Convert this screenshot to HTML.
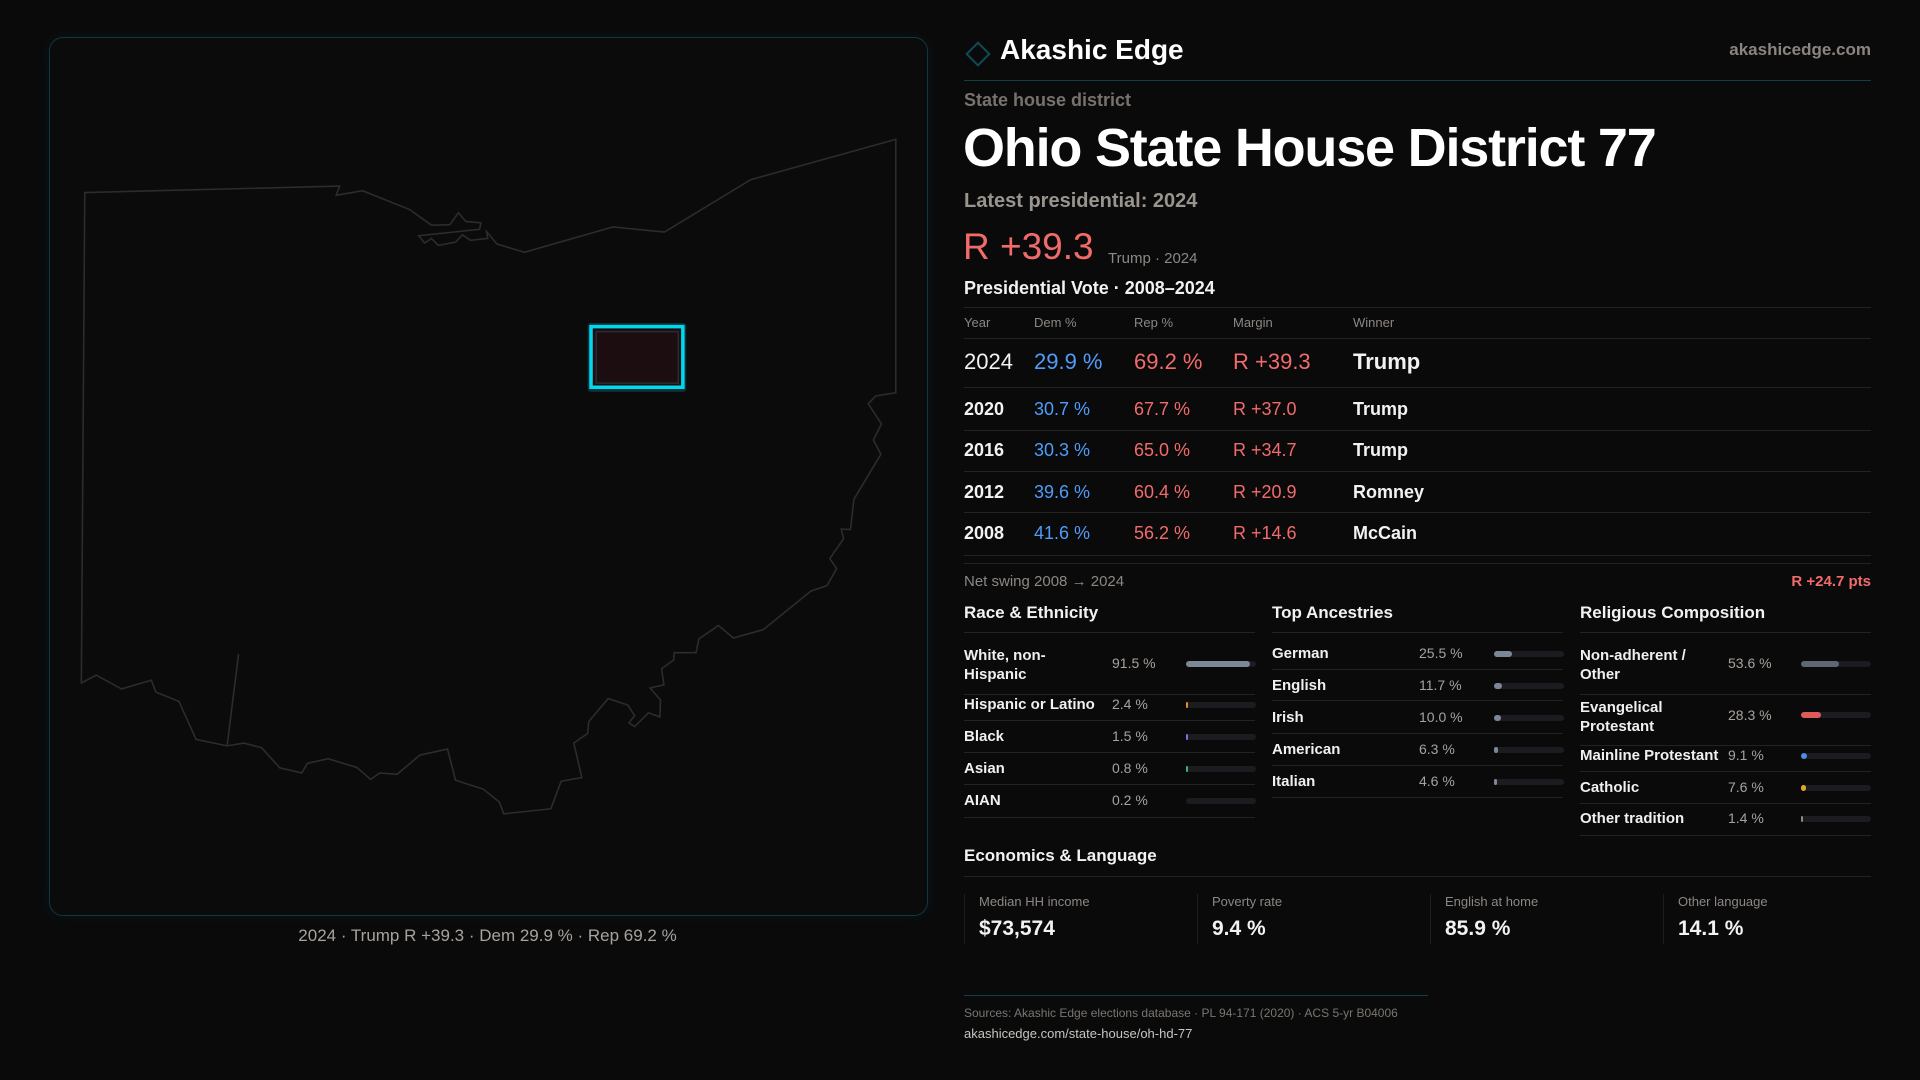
<!DOCTYPE html>
<html><head><meta charset="utf-8"><style>
*{margin:0;padding:0;box-sizing:border-box}
body{width:1920px;height:1080px;background:#0a0a0b;font-family:"Liberation Sans",sans-serif;color:#f2f2f2;position:relative;overflow:hidden}
.a{position:absolute;white-space:nowrap;line-height:1}
.g{color:#8c8782}
.r{color:#f26b6b}
.b{color:#4f9cf9}
.hl{position:absolute;height:1px;background:#222226}
.bar{position:absolute;height:6px;border-radius:3px;background:#1c1c20;width:70px}
.bar i{position:absolute;left:0;top:0;height:6px;border-radius:3px;display:block}
.lab{font-size:15px;font-weight:bold;color:#f0f0f0}
.val{font-size:14px;color:#a8a29c}
</style></head><body>
<div style="position:absolute;left:49px;top:37px;width:879px;height:879px;border:1px solid #10383e;border-radius:14px;background:#0b0b0c;box-shadow:0 0 12px rgba(0,180,200,0.08)"></div>
<svg style="position:absolute;left:40px;top:120px" width="900" height="720" viewBox="0 0 1568 1568" preserveAspectRatio="none">
<path d="M78,158 L522,144 L516,164 L562,154 L644,195 L682,229 L714,228 L729,202 L742,221 L768,224 L766,238 L660,252 L670,268 L682,258 L694,273 L724,266 L736,250 L750,262 L780,258 L778,243 L796,270 L844,288 L998,233 L1088,244 L1238,130 L1491,42 L1491,594 L1456,601 L1443,618 L1466,662 L1452,697 L1465,728 L1418,826 L1412,892 L1396,891 L1400,912 L1376,955 L1388,977 L1371,1014 L1343,1026 L1260,1110 L1208,1128 L1182,1101 L1148,1130 L1143,1160 L1105,1160 L1104,1176 L1083,1195 L1087,1230 L1063,1237 L1081,1263 L1080,1300 L1060,1291 L1036,1321 L1026,1313 L1036,1297 L1024,1274 L990,1260 L956,1310 L954,1336 L930,1357 L944,1432 L908,1440 L890,1500 L808,1511 L800,1485 L772,1457 L724,1438 L710,1370 L662,1383 L622,1425 L592,1422 L576,1436 L552,1410 L502,1391 L466,1401 L456,1422 L418,1411 L386,1367 L355,1357 L326,1363 L272,1349 L242,1266 L202,1246 L194,1220 L142,1239 L98,1209 L72,1226 Z M326,1363 L346,1163" fill="none" stroke="#2c2c2f" stroke-width="1.6" vector-effect="non-scaling-stroke"/>
<rect x="954" y="442" width="172" height="150" rx="6" fill="#0f3a44" opacity="0.8"/>
<rect x="960" y="450" width="160" height="132" fill="#1c0e10" stroke="#00d8ef" stroke-width="3.5" vector-effect="non-scaling-stroke"/>
<rect x="969" y="461" width="143" height="112" fill="none" stroke="#2c2c2f" stroke-width="1.5" vector-effect="non-scaling-stroke"/>
</svg>
<div class="a" style="left:0;width:975px;text-align:center;top:927px;font-size:17px;color:#a8a29c">2024 · Trump R +39.3 · Dem 29.9 % · Rep 69.2 %</div>

<div style="position:absolute;left:969px;top:45px;width:18px;height:18px;border:2px solid #0f4a55;transform:rotate(45deg)"></div>
<div class="a" style="left:1000px;top:36px;font-size:28px;font-weight:bold;color:#fff">Akashic Edge</div>
<div class="a g" style="right:49px;top:41px;font-size:17px;font-weight:bold;color:#8a8580">akashicedge.com</div>
<div class="hl" style="left:964px;width:907px;top:80px;background:#10404a"></div>
<div class="a g" style="left:964px;top:91px;font-size:18px;font-weight:bold;color:#77726d">State house district</div>
<div class="a" style="left:963px;top:121px;font-size:54px;font-weight:bold;color:#fff;letter-spacing:-1.2px">Ohio State House District 77</div>
<div class="a" style="left:964px;top:191px;font-size:20px;font-weight:bold;color:#9a948e">Latest presidential: 2024</div>
<div class="a r" style="left:963px;top:228px;font-size:37px">R +39.3</div>
<div class="a g" style="left:1108px;top:251px;font-size:15px">Trump · 2024</div>
<div class="a" style="left:964px;top:279px;font-size:18px;font-weight:bold">Presidential Vote · 2008–2024</div>
<div class="hl" style="left:964px;width:907px;top:307px"></div>
<div class="a g" style="left:964px;top:316px;font-size:13px">Year</div>
<div class="a g" style="left:1034px;top:316px;font-size:13px">Dem %</div>
<div class="a g" style="left:1134px;top:316px;font-size:13px">Rep %</div>
<div class="a g" style="left:1233px;top:316px;font-size:13px">Margin</div>
<div class="a g" style="left:1353px;top:316px;font-size:13px">Winner</div>
<div class="hl" style="left:964px;width:907px;top:338px"></div>
<div class="a" style="left:964px;top:351px;font-size:22px">2024</div>
<div class="a b" style="left:1034px;top:351px;font-size:22px">29.9 %</div>
<div class="a r" style="left:1134px;top:351px;font-size:22px">69.2 %</div>
<div class="a r" style="left:1233px;top:351px;font-size:22px">R +39.3</div>
<div class="a" style="left:1353px;top:351px;font-size:22px;font-weight:bold">Trump</div>
<div class="hl" style="left:964px;width:907px;top:387px"></div>

<div class="a" style="left:964px;top:400px;font-size:18px;font-weight:bold">2020</div><div class="a b" style="left:1034px;top:400px;font-size:18px">30.7 %</div><div class="a r" style="left:1134px;top:400px;font-size:18px">67.7 %</div><div class="a r" style="left:1233px;top:400px;font-size:18px">R +37.0</div><div class="a" style="left:1353px;top:400px;font-size:18px;font-weight:bold">Trump</div>
<div class="hl" style="left:964px;width:907px;top:430px"></div>
<div class="a" style="left:964px;top:441px;font-size:18px;font-weight:bold">2016</div><div class="a b" style="left:1034px;top:441px;font-size:18px">30.3 %</div><div class="a r" style="left:1134px;top:441px;font-size:18px">65.0 %</div><div class="a r" style="left:1233px;top:441px;font-size:18px">R +34.7</div><div class="a" style="left:1353px;top:441px;font-size:18px;font-weight:bold">Trump</div>
<div class="hl" style="left:964px;width:907px;top:471px"></div>
<div class="a" style="left:964px;top:483px;font-size:18px;font-weight:bold">2012</div><div class="a b" style="left:1034px;top:483px;font-size:18px">39.6 %</div><div class="a r" style="left:1134px;top:483px;font-size:18px">60.4 %</div><div class="a r" style="left:1233px;top:483px;font-size:18px">R +20.9</div><div class="a" style="left:1353px;top:483px;font-size:18px;font-weight:bold">Romney</div>
<div class="hl" style="left:964px;width:907px;top:512px"></div>
<div class="a" style="left:964px;top:524px;font-size:18px;font-weight:bold">2008</div><div class="a b" style="left:1034px;top:524px;font-size:18px">41.6 %</div><div class="a r" style="left:1134px;top:524px;font-size:18px">56.2 %</div><div class="a r" style="left:1233px;top:524px;font-size:18px">R +14.6</div><div class="a" style="left:1353px;top:524px;font-size:18px;font-weight:bold">McCain</div>
<div class="hl" style="left:964px;width:907px;top:555px"></div>
<div class="hl" style="left:964px;width:907px;top:563px"></div>
<div class="a g" style="left:964px;top:574px;font-size:15px">Net swing 2008 → 2024</div>
<div class="a r" style="right:49px;top:574px;font-size:15px;font-weight:bold">R +24.7 pts</div>

<div class="a" style="left:964px;top:604px;font-size:17px;font-weight:bold">Race &amp; Ethnicity</div>
<div class="a" style="left:1272px;top:604px;font-size:17px;font-weight:bold">Top Ancestries</div>
<div class="a" style="left:1580px;top:604px;font-size:17px;font-weight:bold">Religious Composition</div>
<div class="hl" style="left:964px;width:291px;top:632px"></div>
<div class="hl" style="left:1272px;width:291px;top:632px"></div>
<div class="hl" style="left:1580px;width:291px;top:632px"></div>

<div class="a lab" style="left:964px;top:646px;line-height:19px">White, non-<br>Hispanic</div><div class="a val" style="left:1112px;top:656px">91.5 %</div><div class="bar" style="left:1186px;top:661px"><i style="width:64px;background:#7c8898"></i></div>
<div class="hl" style="left:964px;width:291px;top:694px"></div>
<div class="a lab" style="left:964px;top:697px">Hispanic or Latino</div><div class="a val" style="left:1112px;top:697px">2.4 %</div><div class="bar" style="left:1186px;top:702px"><i style="width:2px;background:#e0902a"></i></div>
<div class="hl" style="left:964px;width:291px;top:720px"></div>
<div class="a lab" style="left:964px;top:729px">Black</div><div class="a val" style="left:1112px;top:729px">1.5 %</div><div class="bar" style="left:1186px;top:734px"><i style="width:2px;background:#8a6ae8"></i></div>
<div class="hl" style="left:964px;width:291px;top:752px"></div>
<div class="a lab" style="left:964px;top:761px">Asian</div><div class="a val" style="left:1112px;top:761px">0.8 %</div><div class="bar" style="left:1186px;top:766px"><i style="width:2px;background:#3ab07a"></i></div>
<div class="hl" style="left:964px;width:291px;top:784px"></div>
<div class="a lab" style="left:964px;top:793px">AIAN</div><div class="a val" style="left:1112px;top:793px">0.2 %</div><div class="bar" style="left:1186px;top:798px"></div>
<div class="hl" style="left:964px;width:291px;top:817px"></div>

<div class="a lab" style="left:1272px;top:646px">German</div><div class="a val" style="left:1419px;top:646px">25.5 %</div><div class="bar" style="left:1494px;top:651px"><i style="width:18px;background:#7c8898"></i></div>
<div class="hl" style="left:1272px;width:291px;top:669px"></div>
<div class="a lab" style="left:1272px;top:678px">English</div><div class="a val" style="left:1419px;top:678px">11.7 %</div><div class="bar" style="left:1494px;top:683px"><i style="width:8px;background:#7c8898"></i></div>
<div class="hl" style="left:1272px;width:291px;top:700px"></div>
<div class="a lab" style="left:1272px;top:710px">Irish</div><div class="a val" style="left:1419px;top:710px">10.0 %</div><div class="bar" style="left:1494px;top:715px"><i style="width:7px;background:#7c8898"></i></div>
<div class="hl" style="left:1272px;width:291px;top:733px"></div>
<div class="a lab" style="left:1272px;top:742px">American</div><div class="a val" style="left:1419px;top:742px">6.3 %</div><div class="bar" style="left:1494px;top:747px"><i style="width:4px;background:#7c8898"></i></div>
<div class="hl" style="left:1272px;width:291px;top:765px"></div>
<div class="a lab" style="left:1272px;top:774px">Italian</div><div class="a val" style="left:1419px;top:774px">4.6 %</div><div class="bar" style="left:1494px;top:779px"><i style="width:3px;background:#7c8898"></i></div>
<div class="hl" style="left:1272px;width:291px;top:797px"></div>

<div class="a lab" style="left:1580px;top:646px;line-height:19px">Non-adherent /<br>Other</div><div class="a val" style="left:1728px;top:656px">53.6 %</div><div class="bar" style="left:1801px;top:661px"><i style="width:38px;background:#5f6674"></i></div>
<div class="hl" style="left:1580px;width:291px;top:694px"></div>
<div class="a lab" style="left:1580px;top:698px;line-height:19px">Evangelical<br>Protestant</div><div class="a val" style="left:1728px;top:708px">28.3 %</div><div class="bar" style="left:1801px;top:712px"><i style="width:20px;background:#e05a5a"></i></div>
<div class="hl" style="left:1580px;width:291px;top:745px"></div>
<div class="a lab" style="left:1580px;top:748px">Mainline Protestant</div><div class="a val" style="left:1728px;top:748px">9.1 %</div><div class="bar" style="left:1801px;top:753px"><i style="width:6px;background:#4f8ae8"></i></div>
<div class="hl" style="left:1580px;width:291px;top:771px"></div>
<div class="a lab" style="left:1580px;top:780px">Catholic</div><div class="a val" style="left:1728px;top:780px">7.6 %</div><div class="bar" style="left:1801px;top:785px"><i style="width:5px;background:#e0a82a"></i></div>
<div class="hl" style="left:1580px;width:291px;top:803px"></div>
<div class="a lab" style="left:1580px;top:811px">Other tradition</div><div class="a val" style="left:1728px;top:811px">1.4 %</div><div class="bar" style="left:1801px;top:816px"><i style="width:2px;background:#8a8a8a"></i></div>
<div class="hl" style="left:1580px;width:291px;top:835px"></div>

<div class="a" style="left:964px;top:847px;font-size:17px;font-weight:bold">Economics &amp; Language</div>
<div class="hl" style="left:964px;width:907px;top:876px"></div>
<div style="position:absolute;left:964px;top:894px;width:1px;height:50px;background:#1e1e22"></div>
<div style="position:absolute;left:1197px;top:894px;width:1px;height:50px;background:#1e1e22"></div>
<div style="position:absolute;left:1430px;top:894px;width:1px;height:50px;background:#1e1e22"></div>
<div style="position:absolute;left:1663px;top:894px;width:1px;height:50px;background:#1e1e22"></div>
<div class="a g" style="left:979px;top:895px;font-size:13px">Median HH income</div><div class="a" style="left:979px;top:918px;font-size:21px;font-weight:bold">$73,574</div>
<div class="a g" style="left:1212px;top:895px;font-size:13px">Poverty rate</div><div class="a" style="left:1212px;top:918px;font-size:21px;font-weight:bold">9.4 %</div>
<div class="a g" style="left:1445px;top:895px;font-size:13px">English at home</div><div class="a" style="left:1445px;top:918px;font-size:21px;font-weight:bold">85.9 %</div>
<div class="a g" style="left:1678px;top:895px;font-size:13px">Other language</div><div class="a" style="left:1678px;top:918px;font-size:21px;font-weight:bold">14.1 %</div>

<div class="hl" style="left:964px;width:464px;top:995px;background:#10404a"></div>
<div class="a g" style="left:964px;top:1007px;font-size:12px;color:#7a756f">Sources: Akashic Edge elections database · PL 94-171 (2020) · ACS 5-yr B04006</div>
<div class="a" style="left:964px;top:1027px;font-size:13px;color:#c8c4bf">akashicedge.com/state-house/oh-hd-77</div>
</body></html>
